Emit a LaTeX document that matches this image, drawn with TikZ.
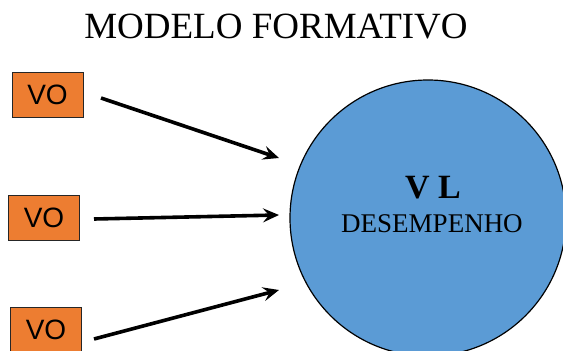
\documentclass[tikz,border=0pt]{standalone}
\usepackage{fontspec}
\setmainfont{Liberation Serif}
\newfontfamily\arialf{Liberation Sans}
\usetikzlibrary{arrows.meta}
\definecolor{vorange}{HTML}{ED7D31}
\definecolor{vblue}{HTML}{5B9BD5}
\begin{document}
\begin{tikzpicture}[x=1pt,y=-1pt,
  vobox/.style={draw=black!85,line width=1pt,fill=vorange,minimum width=71pt,minimum height=45pt,inner sep=0pt,font=\arialf\fontsize{28}{30}\selectfont},
  link/.style={line width=3.6pt,-{Stealth[length=16pt,width=14pt,inset=6pt]}}]
\useasboundingbox (0,0) rectangle (563,351);
\clip (0,0) rectangle (563,351);
\node[font=\fontsize{37}{40}\selectfont] (title) at (276,27) {MODELO FORMATIVO};
\node[circle,draw=black,line width=1.2pt,fill=vblue,minimum size=276pt,inner sep=0pt] (vl) at (428,218) {};
\node[font=\bfseries\fontsize{34}{36}\selectfont] (vlt) at (433,188) {V L};
\node[font=\fontsize{27}{29}\selectfont] (des) at (432,224) {DESEMPENHO};
\node[vobox] (vo1) at (47.5,95) {VO};
\node[vobox] (vo2) at (44,217.5) {VO};
\node[vobox] (vo3) at (46,329.5) {VO};
\coordinate (s1) at (101,98);
\coordinate (e1) at (279,158);
\coordinate (s2) at (94,219);
\coordinate (e2) at (279,215);
\coordinate (s3) at (94,339);
\coordinate (e3) at (279,290);
\draw[link] (s1) -- (e1);
\draw[link] (s2) -- (e2);
\draw[link] (s3) -- (e3);
\end{tikzpicture}
\end{document}
